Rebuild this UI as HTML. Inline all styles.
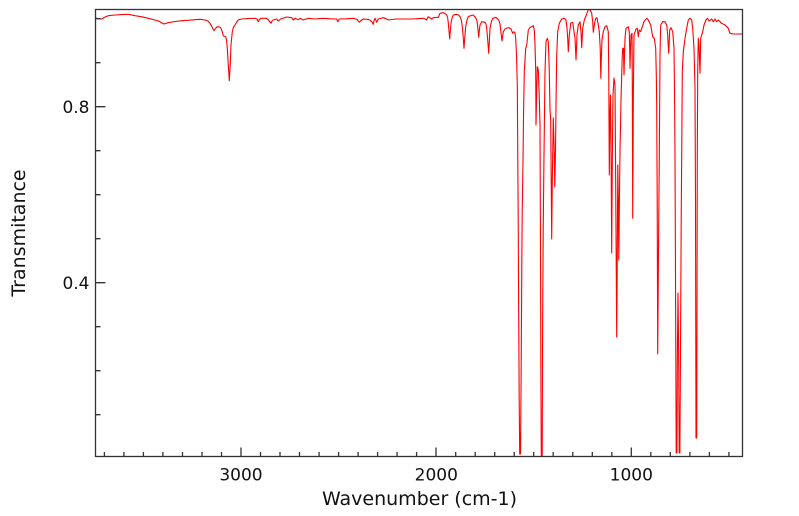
<!DOCTYPE html>
<html>
<head>
<meta charset="utf-8">
<style>
html,body{margin:0;padding:0;background:#fff;}
svg{display:block;}
text{font-family:"DejaVu Sans","Liberation Sans",sans-serif;fill:#111;}
</style>
</head>
<body>
<svg width="799" height="516" viewBox="0 0 799 516" xmlns="http://www.w3.org/2000/svg">
<defs>
<clipPath id="pa"><rect x="95.5" y="9.5" width="647" height="447"/></clipPath>
</defs>
<rect x="0" y="0" width="799" height="516" fill="#fff"/>
<g clip-path="url(#pa)">
<polyline fill="none" stroke="#ff0000" stroke-width="1.1" stroke-linejoin="round" points="
95,17.8 98,18.5 101.7,19 105,17 108.3,15.7 115,15 122,14.6 128.3,14.3 135,15.7 142,16.8 148.3,18.3 153,19.5 158.3,21 164,24 168.3,22.7 175,21.5 181.7,20.7 188,20.3 195,19.7 200,19.3 205,20 208,21 210,23.3 212,27 214,30.7 215.5,28.5 217.3,26.7 219,26.8 220.7,27.7 222,31 223.3,35.7 225.7,36.7 226.5,40 227.3,48.3 228.3,65 229.3,80.7 230.2,65 231,45 232.3,31.7 233.5,27 235,25 236.7,22 238.3,20 241.7,19 248,18.5 255,18.3 257,19 258.3,21.7 259.5,19.5 260.7,18.3 266.7,18.3 268.5,20 270,22 271,23.3 272,21 273.3,20 276.7,19 278.3,21 280.7,19 286.7,17 291.7,17.7 293.3,20 295,18.3 298.3,19.7 300,18.3 303.3,20 306,19 308.3,18.3 315,19 320,18.6 323.3,18.3 330,18.8 336.7,19 337.7,21.7 339.3,19 346,18.8 353.3,18.3 357,19.5 359.3,22.3 361,20.5 363.3,19 367,19.3 370,20 372,22 373.3,24.3 374.2,20 375,18.3 375.8,20 376.7,22.3 377.5,20.5 378.3,19 383.3,17.7 386,18.7 388.3,20 392,19.5 396.7,19 403,19 410,19 416,18.8 423.3,18.3 425,19 426.7,20 427.5,18 428.3,16.7 430,18 431.7,19 433.3,17.7 438.3,17.3 440,13.3 443.3,12.7 445,13.5 446.7,15 447.7,18 448.3,23.3 449,31 449.7,39 450.3,31 451,23.3 452,18 453.3,15 456.7,14.3 458.5,15 460,16.7 461.3,20 462.3,26.7 463.2,37 464,48.3 464.8,37 465.7,26.7 467,20 468.3,16.7 471,15.5 473.3,15 475.7,17.7 477,21 477.7,26.7 478.7,37.3 479.4,30 480,25 481.7,21.7 485,22.3 486,24 486.7,28.3 487.7,40 488.7,53.3 489.4,40 490,28.3 491.3,22 492.7,18.3 496,17.3 498.7,20 500,24 500.7,30 501.4,36 502,41 502.7,36 503.3,31.7 505,29 507,28 509,27.7 511,29 512.7,33.3 514,31.7 515,33 515.7,38.3 516.5,55 517.3,85 518.2,220 518.6,300 519.2,400 519.7,454 520.5,454 521.1,380 521.6,300 521.9,250 522.2,213 523,160 523.6,110 524.3,71.7 525.7,48.3 526.7,45 527.5,38 528.3,30 530,27.5 531.7,26.7 533.3,25.7 534.3,30 535,45 535.7,70 536,125 536.7,90 537.3,66.7 538.3,70 539.3,98.3 540,125 540.5,250 540.9,380 541.3,456.7 542.2,456.7 542.6,330 543.2,230 544,155 545,71.7 546,41.7 547.3,38.3 548.3,41.7 549.3,71.7 550,110 550.7,120 551.2,180 551.7,239 552.3,180 553.3,118 554.2,150 554.8,187 555.5,150 556,105 556.7,55 557.7,31.7 559.3,23.3 561.7,19 564.3,18.3 566,20 567,28 567.7,38.3 568.3,51.7 569.3,35 570.7,23.3 572.7,22.3 574,31.7 575,38.3 575.5,48 576,60 576.5,48 577,35 578.3,25 580,21.7 581,31.7 581.7,47.7 582.2,38 582.7,28.3 584.3,20 586.7,14 588.3,9.5 590,10 591.7,13.3 592.7,21.7 593.3,32.3 594.3,25 595.7,18.3 597,17.7 598.3,25 599.3,31.7 600.2,48 600.8,78.3 601.4,55 602,40 603.3,31.7 605,26.7 606.7,25.7 608.3,31.7 608.8,80 609.3,175 609.8,120 610.5,95 611.2,170 611.7,253 612.3,160 613,95 614,78 615,85 615.8,200 616.7,337 617.3,250 617.8,165 618.3,200 618.8,260 619.4,200 620,150 620.5,128 621,100 621.7,75 622.3,55 622.7,48.3 623.5,48.3 624,75 624.5,55 625,38.3 626,28.3 628.3,26.7 629.3,31.7 629.7,50 630,68.3 630.5,50 631,35 632,33.3 632.3,80 632.7,218.3 633.3,100 634,35 636,29 637.3,28.3 638.3,36.7 639.3,30 640.7,31.7 641.7,28.3 644,21.7 646.7,18.3 648.3,20 650.7,25 652.7,36.7 654.3,38.3 655.7,48.3 656.3,75 656.7,105 657.2,200 657.7,354 658.5,250 659.3,155 659.7,100 660,55 660.7,25 662.7,21.7 665,21.7 666.7,25 667.7,35 668.2,45 668.7,53.3 669.2,42 669.7,30 671,27.7 672.7,31.7 674,48.3 674.5,90 675,155 675.6,300 676.2,453 676.9,453 677.4,350 678,293 678.6,350 679.2,453 679.9,453 680.6,330 681.2,220 681.7,155 682.3,71.7 683.3,51.7 685,38.3 686.7,28.3 688.3,20 690,18.3 691.7,20 692.7,28.3 694,48.3 695,88.3 695.5,200 696,438 696.7,438 697.3,155 697.7,71.7 698.3,38.3 699,45 699.5,60 700,73.3 700.4,55 700.7,38.3 701.7,35 702.7,31.7 704,25 706,20 707.3,18.3 709.3,21 711.7,19 713.3,21.7 715,19 716.7,21.7 718.3,20 721.7,23.3 725,25 728.3,28.3 730,33.3 733.3,34 743,34"/>
</g>
<g stroke="#333" stroke-width="1.3" fill="none">
<rect x="95.5" y="9.5" width="647" height="447"/>
<!-- x major ticks -->
<path d="M241,456.5V447.5 M436,456.5V447.5 M631.3,456.5V447.5"/>
<!-- x minor ticks -->
<path d="M104.4,456.5v-4.5 M123.9,456.5v-4.5 M143.4,456.5v-4.5 M162.9,456.5v-4.5 M182.5,456.5v-4.5 M202,456.5v-4.5 M221.5,456.5v-4.5 M260.5,456.5v-4.5 M280,456.5v-4.5 M299.5,456.5v-4.5 M319.1,456.5v-4.5 M338.6,456.5v-4.5 M358.1,456.5v-4.5 M377.6,456.5v-4.5 M397.1,456.5v-4.5 M416.6,456.5v-4.5 M455.7,456.5v-4.5 M475.2,456.5v-4.5 M494.7,456.5v-4.5 M514.2,456.5v-4.5 M533.7,456.5v-4.5 M553.2,456.5v-4.5 M572.8,456.5v-4.5 M592.3,456.5v-4.5 M611.8,456.5v-4.5 M650.8,456.5v-4.5 M670.3,456.5v-4.5 M689.9,456.5v-4.5 M709.4,456.5v-4.5 M728.9,456.5v-4.5"/>
<!-- y major ticks -->
<path d="M95.5,106.7h10 M95.5,282.7h10"/>
<!-- y minor ticks -->
<path d="M95.5,18.7h5 M95.5,62.7h5 M95.5,150.7h5 M95.5,194.7h5 M95.5,238.7h5 M95.5,326.7h5 M95.5,370.7h5 M95.5,414.7h5"/>
</g>
<g font-size="17">
<text x="241" y="480.5" text-anchor="middle">3000</text>
<text x="436.3" y="480.5" text-anchor="middle">2000</text>
<text x="631.3" y="480.5" text-anchor="middle">1000</text>
<text x="89.5" y="113" text-anchor="end">0.8</text>
<text x="89.5" y="289" text-anchor="end">0.4</text>
</g>
<text x="419.5" y="505" font-size="19" text-anchor="middle">Wavenumber (cm-1)</text>
<text x="0" y="0" font-size="19" text-anchor="middle" transform="translate(25,233) rotate(-90)">Transmitance</text>
</svg>
</body>
</html>
